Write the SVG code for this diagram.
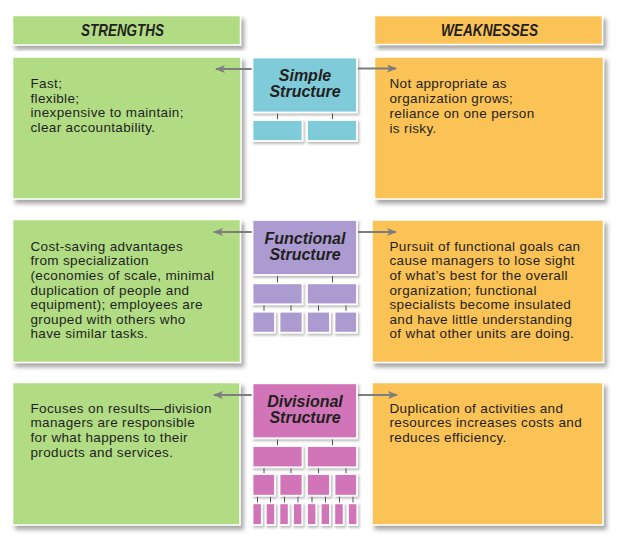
<svg xmlns="http://www.w3.org/2000/svg" width="622" height="545" viewBox="0 0 622 545">
<defs>
<filter id="sh" x="-10%" y="-10%" width="125%" height="130%">
<feDropShadow dx="3" dy="4" stdDeviation="2" flood-color="#6e6a6a" flood-opacity="0.6"/>
</filter>
<filter id="sh2" x="-20%" y="-20%" width="150%" height="160%">
<feDropShadow dx="1.5" dy="2" stdDeviation="1.2" flood-color="#6e6a6a" flood-opacity="0.45"/>
</filter>
<marker id="ah" viewBox="0 0 10 8" refX="9" refY="4" markerWidth="10" markerHeight="8" markerUnits="userSpaceOnUse" orient="auto">
<path d="M0,0 L10,4 L0,8 L2.5,4 Z" fill="#7d7d80"/>
</marker>
</defs>
<style>
.g{fill:#b1dc84;stroke:#fff;stroke-width:1.5;filter:url(#sh)}
.o{fill:#fbc257;stroke:#fff;stroke-width:1.5;filter:url(#sh)}
.b{fill:#80cbd9;stroke:#fff;stroke-width:1.8;filter:url(#sh2)}
.p{fill:#ab9bd1;stroke:#fff;stroke-width:1.8;filter:url(#sh2)}
.m{fill:#d274b8;stroke:#fff;stroke-width:1.8;filter:url(#sh2)}
.hd{font-family:"Liberation Sans Narrow","Liberation Sans",Arial,sans-serif;font-weight:bold;font-style:italic;font-size:17px;fill:#231f20}
.st{font-family:"Liberation Sans",Arial,sans-serif;font-weight:bold;font-style:italic;font-size:16px;fill:#231f20;text-anchor:middle}
.tx{font-family:"Liberation Sans",Arial,sans-serif;font-size:13.5px;letter-spacing:0.35px;fill:#231f20}
.ar{stroke:#7d7d80;stroke-width:2;fill:none;marker-end:url(#ah)}
.ln{stroke:#4d4d4f;stroke-width:1;fill:none}
</style>

<g id="header-strengths">
<rect class="g" x="12.5" y="15.5" width="228" height="29.5"/>
<text class="hd" x="81" y="36" textLength="83" lengthAdjust="spacingAndGlyphs">STRENGTHS</text>
</g>
<g id="header-weaknesses">
<rect class="o" x="374.5" y="15.5" width="228" height="29"/>
<text class="hd" x="441" y="36" textLength="97" lengthAdjust="spacingAndGlyphs">WEAKNESSES</text>
</g>

<g id="simple-strengths">
<rect class="g" x="12.5" y="57" width="228.5" height="142"/>
<text class="tx"><tspan x="30.5" y="88">Fast;</tspan><tspan x="30.5" dy="14.6">flexible;</tspan><tspan x="30.5" dy="14.6">inexpensive to maintain;</tspan><tspan x="30.5" dy="14.6">clear accountability.</tspan></text>
</g>
<g id="simple-weaknesses">
<rect class="o" x="374.5" y="57" width="229" height="142"/>
<text class="tx"><tspan x="389.5" y="88.3">Not appropriate as</tspan><tspan x="389.5" dy="14.8">organization grows;</tspan><tspan x="389.5" dy="14.8">reliance on one person</tspan><tspan x="389.5" dy="14.8">is risky.</tspan></text>
</g>

<g id="functional-strengths">
<rect class="g" x="12.5" y="219.5" width="228" height="143"/>
<text class="tx"><tspan x="30.5" y="250.7">Cost-saving advantages</tspan><tspan x="30.5" dy="14.6">from specialization</tspan><tspan x="30.5" dy="14.6">(economies of scale, minimal</tspan><tspan x="30.5" dy="14.6">duplication of people and</tspan><tspan x="30.5" dy="14.6">equipment); employees are</tspan><tspan x="30.5" dy="14.6">grouped with others who</tspan><tspan x="30.5" dy="14.6">have similar tasks.</tspan></text>
</g>
<g id="functional-weaknesses">
<rect class="o" x="372" y="220" width="231.5" height="142.5"/>
<text class="tx"><tspan x="389.5" y="250.7">Pursuit of functional goals can</tspan><tspan x="389.5" dy="14.6">cause managers to lose sight</tspan><tspan x="389.5" dy="14.6">of what’s best for the overall</tspan><tspan x="389.5" dy="14.6">organization; functional</tspan><tspan x="389.5" dy="14.6">specialists become insulated</tspan><tspan x="389.5" dy="14.6">and have little understanding</tspan><tspan x="389.5" dy="14.6">of what other units are doing.</tspan></text>
</g>

<g id="divisional-strengths">
<rect class="g" x="12.5" y="382.5" width="227.5" height="142.5"/>
<text class="tx"><tspan x="30.5" y="412.7">Focuses on results—division</tspan><tspan x="30.5" dy="14.6">managers are responsible</tspan><tspan x="30.5" dy="14.6">for what happens to their</tspan><tspan x="30.5" dy="14.6">products and services.</tspan></text>
</g>
<g id="divisional-weaknesses">
<rect class="o" x="372" y="382.5" width="231" height="142.5"/>
<text class="tx"><tspan x="389.5" y="412.7">Duplication of activities and</tspan><tspan x="389.5" dy="14.6">resources increases costs and</tspan><tspan x="389.5" dy="14.6">reduces efficiency.</tspan></text>
</g>

<g id="connectors">
<line class="ar" x1="252" y1="69" x2="216" y2="69"/>
<line class="ar" x1="357" y1="68.5" x2="396" y2="68.5"/>
<line class="ar" x1="252" y1="232" x2="214" y2="232"/>
<line class="ar" x1="357" y1="232" x2="396" y2="232"/>
<line class="ar" x1="252" y1="395" x2="214" y2="395"/>
<line class="ar" x1="357" y1="395" x2="397" y2="395"/>
<path class="ln" d="M277.5,113V120M332.5,113V120"/>
<path class="ln" d="M277.5,275V283M332.5,275V283M264,304V311.5M291,304V311.5M318.5,304V311.5M346,304V311.5"/>
<path class="ln" d="M277.5,438V446M332.5,438V446M264,467V474M291,467V474M318.5,467V474M346,467V474M257.5,495.5V503M270.5,495.5V503M284.5,495.5V503M298,495.5V503M312,495.5V503M325.5,495.5V503M339.5,495.5V503M353,495.5V503"/>
</g>

<g id="simple-structure">
<rect class="b" x="252.5" y="57.5" width="104.5" height="55"/>
<text class="st" x="305" y="80.7">Simple</text>
<text class="st" x="305" y="96.7">Structure</text>
<rect class="b" x="252.5" y="120" width="50" height="21"/>
<rect class="b" x="307" y="120" width="50" height="21"/>
</g>

<g id="functional-structure">
<rect class="p" x="252.5" y="220" width="104.5" height="55"/>
<text class="st" x="305" y="244.3">Functional</text>
<text class="st" x="305" y="260">Structure</text>
<rect class="p" x="252.5" y="283.3" width="50" height="21"/>
<rect class="p" x="307" y="283.3" width="50" height="21"/>
<rect class="p" x="252.5" y="311.7" width="22.5" height="21"/>
<rect class="p" x="279.5" y="311.7" width="23" height="21"/>
<rect class="p" x="307" y="311.7" width="23" height="21"/>
<rect class="p" x="334.5" y="311.7" width="22.5" height="21"/>
</g>

<g id="divisional-structure">
<rect class="m" x="252.5" y="383.3" width="104.5" height="55"/>
<text class="st" x="305" y="407.3">Divisional</text>
<text class="st" x="305" y="423.3">Structure</text>
<rect class="m" x="252.5" y="446" width="50" height="21.3"/>
<rect class="m" x="307" y="446" width="50" height="21.3"/>
<rect class="m" x="252.5" y="474" width="22.5" height="21.7"/>
<rect class="m" x="279.5" y="474" width="23" height="21.7"/>
<rect class="m" x="307" y="474" width="23" height="21.7"/>
<rect class="m" x="334.5" y="474" width="22.5" height="21.7"/>
<rect class="m" x="252.5" y="503.3" width="9.3" height="21.7"/>
<rect class="m" x="265.8" y="503.3" width="9.3" height="21.7"/>
<rect class="m" x="279.4" y="503.3" width="9.3" height="21.7"/>
<rect class="m" x="293" y="503.3" width="9.3" height="21.7"/>
<rect class="m" x="307" y="503.3" width="9.3" height="21.7"/>
<rect class="m" x="320.7" y="503.3" width="9.3" height="21.7"/>
<rect class="m" x="334.3" y="503.3" width="9.3" height="21.7"/>
<rect class="m" x="348" y="503.3" width="9.3" height="21.7"/>
</g>
</svg>
